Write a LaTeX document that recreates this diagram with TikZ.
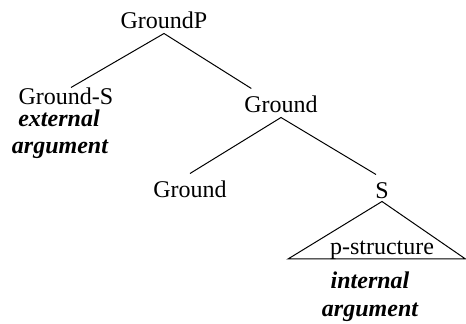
\documentclass[tikz,border=0pt]{standalone}
\usepackage{fontspec}
\setmainfont{Liberation Serif}
\begin{document}
\begin{tikzpicture}[x=0.5pt,y=-0.5pt,line width=0.5pt,
    every node/.style={font=\fontsize{12}{14}\selectfont},
    cat/.style={anchor=base,inner sep=0pt,text height=12pt,text depth=2pt},
    role/.style={anchor=base,inner sep=0pt,font=\fontsize{12}{14}\selectfont\bfseries\itshape}]
  \useasboundingbox (0,0) rectangle (466,324);
  \node[cat] (groundp) at (164,29) {GroundP};
  \node[cat,text height=8.5pt] (grounds) at (66,105) {Ground-S};
  \node[role] (ext1) at (59,127) {external};
  \node[role] (ext2) at (60,154) {argument};
  \node[cat] (ground1) at (281,113) {Ground};
  \node[cat] (ground2) at (190,198) {Ground};
  \node[cat,text depth=1pt] (s) at (382,199) {S};
  \node[anchor=base,inner sep=0pt] (pstruct) at (382,255) {p-structure};
  \node[role] (int1) at (370,289) {internal};
  \node[role] (int2) at (370,317) {argument};
  \coordinate (tri-l) at (288,259);
  \coordinate (tri-r) at (465.5,259);
  \draw ([xshift=2.5pt]grounds.north) -- (groundp.south) -- ([xshift=3.75pt]ground1.north west);
  \draw (ground2.north) -- (ground1.south) -- ([xshift=-3pt]s.north);
  \draw (s.south) -- (tri-l) -- (tri-r) -- cycle;
\end{tikzpicture}
\end{document}
